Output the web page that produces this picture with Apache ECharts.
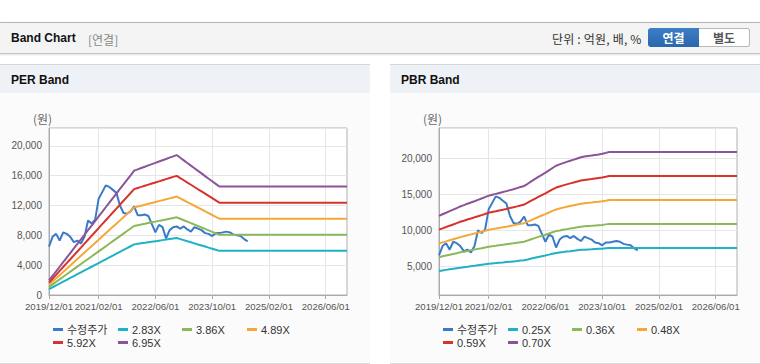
<!DOCTYPE html>
<html><head><meta charset="utf-8">
<script src="https://cdn.jsdelivr.net/npm/echarts@6/dist/echarts.min.js"></script>
<style>
html,body{margin:0;padding:0;background:#fff;width:760px;height:364px;overflow:hidden;font-family:'Liberation Sans','Noto Sans CJK KR',sans-serif;}
#top{position:absolute;left:0;top:22px;width:760px;height:30px;background:#f4f4f4;border-top:1px solid #b4b4b4;border-bottom:1px solid #c4c4c4;box-shadow:0 1px 2px rgba(0,0,0,0.12);}
#t1{position:absolute;left:11px;top:8px;font-weight:bold;font-size:12px;color:#111;}
#t2{position:absolute;left:88px;top:8px;font-size:12px;color:#888;font-family:'Noto Sans CJK KR',sans-serif;}
#unit{position:absolute;left:552px;top:7px;font-size:12px;color:#333;font-family:'Noto Sans CJK KR',sans-serif;letter-spacing:0.2px;}
#b1{position:absolute;left:648px;top:5px;width:51px;height:19px;line-height:19px;text-align:center;background:linear-gradient(#3d7fc6,#2a66ab);color:#fff;font-weight:bold;font-size:12px;border-radius:3px 0 0 3px;font-family:'Noto Sans CJK KR',sans-serif;}
#b2{position:absolute;left:699px;top:5px;width:50px;height:17px;line-height:17px;text-align:center;background:#fff;color:#555;font-weight:bold;font-size:12px;border:1px solid #b8b8b8;border-left:none;border-radius:0 3px 3px 0;font-family:'Noto Sans CJK KR',sans-serif;}
.panel{position:absolute;top:64px;width:370px;height:298px;background:#fbfbfb;border-top:1px solid #d6d6d6;border-bottom:1px solid #dcdcdc;}
.ph{position:absolute;left:0;top:0;width:370px;height:28px;background:#eef2f7;}
.pt{position:absolute;left:11px;top:8px;font-weight:bold;font-size:12px;color:#111;}
.chart{position:absolute;left:0;top:28px;width:370px;height:269px;}
</style></head>
<body>
<div id="top"><div id="t1">Band Chart</div><div id="t2">[연결]</div><div id="unit">단위 : 억원, 배, %</div><div id="b1">연결</div><div id="b2">별도</div></div>
<div class="panel" style="left:0"><div class="ph"><div class="pt">PER Band</div></div><div class="chart" id="per"></div></div>
<div class="panel" style="left:390px"><div class="ph"><div class="pt">PBR Band</div></div><div class="chart" id="pbr"></div></div>
<script>
const categories = ['2019/12/01','2020/01/01','2020/02/01','2020/03/01','2020/04/01','2020/05/01','2020/06/01','2020/07/01','2020/08/01','2020/09/01','2020/10/01','2020/11/01','2020/12/01',
'2021/01/01','2021/02/01','2021/03/01','2021/04/01','2021/05/01','2021/06/01','2021/07/01','2021/08/01','2021/09/01','2021/10/01','2021/11/01','2021/12/01',
'2022/01/01','2022/02/01','2022/03/01','2022/04/01','2022/05/01','2022/06/01','2022/07/01','2022/08/01','2022/09/01','2022/10/01','2022/11/01','2022/12/01',
'2023/01/01','2023/02/01','2023/03/01','2023/04/01','2023/05/01','2023/06/01','2023/07/01','2023/08/01','2023/09/01','2023/10/01','2023/11/01','2023/12/01',
'2024/01/01','2024/02/01','2024/03/01','2024/04/01','2024/05/01','2024/06/01','2024/07/01','2024/08/01','2024/09/01','2024/10/01','2024/11/01','2024/12/01',
'2025/01/01','2025/02/01','2025/03/01','2025/04/01','2025/05/01','2025/06/01','2025/07/01','2025/08/01','2025/09/01','2025/10/01','2025/11/01','2025/12/01',
'2026/01/01','2026/02/01','2026/03/01','2026/04/01','2026/05/01','2026/06/01','2026/07/01','2026/08/01','2026/09/01','2026/10/01','2026/11/01','2026/12/01'];
const tickLabels = ['2019/12/01','2021/02/01','2022/06/01','2023/10/01','2025/02/01','2026/06/01'];

const price = [6500,7800,8200,7300,8400,8200,7800,7100,7300,6900,7800,10000,9600,10100,12900,13800,14700,14500,14100,13700,12000,11000,10900,11200,11900,10700,10700,10800,10600,9500,8400,9400,9100,7600,8700,9100,9200,8900,9200,8800,8500,9100,8900,8700,8300,8200,7900,8300,8300,8400,8500,8400,8100,8000,7900,7500,7200];

const perNames = ['2.83X','3.86X','4.89X','5.92X','6.95X'];
const per283 = [790,1040,1290,1540,1790,2040,2290,2540,2790,3040,3290,3540,3790,4040,4290,4540,4790,5040,5290,5540,5790,6040,6290,6540,6790,
6860,6930,7000,7080,7150,7220,7290,7360,7430,7500,7570,7640,
7500,7360,7210,7070,6930,6780,6640,6500,6350,6210,6070,5920,
5920,5920,5920,5920,5920,5920,5920,5920,5920,5920,5920,5920,5920,5920,5920,5920,5920,5920,5920,5920,5920,5920,5920,5920,5920,5920,5920,5920,5920,5920,5920,5920,5920,5920,5920,5920];
const per386 = [1080,1420,1760,2100,2440,2790,3130,3470,3810,4150,4490,4830,5170,5510,5850,6190,6530,6880,7220,7560,7900,8240,8580,8920,9260,
9360,9460,9550,9650,9750,9840,9940,10040,10130,10230,10330,10420,
10230,10030,9840,9640,9450,9250,9060,8860,8670,8470,8280,8080,
8080,8080,8080,8080,8080,8080,8080,8080,8080,8080,8080,8080,8080,8080,8080,8080,8080,8080,8080,8080,8080,8080,8080,8080,8080,8080,8080,8080,8080,8080,8080,8080,8080,8080,8080,8080];
const per489 = [1370,1800,2230,2660,3100,3530,3960,4390,4820,5260,5690,6120,6550,6980,7410,7850,8280,8710,9140,9570,10010,10440,10870,11300,11730,
11860,11980,12100,12230,12350,12470,12590,12710,12840,12960,13080,13200,
12950,12710,12460,12220,11970,11720,11470,11220,10980,10730,10480,10240,
10240,10240,10240,10240,10240,10240,10240,10240,10240,10240,10240,10240,10240,10240,10240,10240,10240,10240,10240,10240,10240,10240,10240,10240,10240,10240,10240,10240,10240,10240,10240,10240,10240,10240,10240,10240];
const per592 = [1660,2180,2700,3230,3750,4270,4790,5320,5840,6360,6890,7410,7930,8450,8980,9500,10020,10540,11070,11590,12110,12640,13160,13680,14200,
14360,14500,14650,14800,14950,15100,15240,15390,15540,15690,15840,15980,
15680,15390,15080,14790,14490,14180,13890,13590,13290,12990,12690,12390,
12390,12390,12390,12390,12390,12390,12390,12390,12390,12390,12390,12390,12390,12390,12390,12390,12390,12390,12390,12390,12390,12390,12390,12390,12390,12390,12390,12390,12390,12390,12390,12390,12390,12390,12390,12390];
const per695 = [1950,2560,3170,3790,4400,5020,5630,6240,6860,7470,8080,8700,9310,9920,10540,11150,11770,12380,12990,13610,14220,14830,15450,16060,16680,
16850,17030,17200,17380,17550,17720,17900,18070,18240,18420,18590,18770,
18410,18060,17710,17360,17010,16650,16310,15950,15600,15250,14900,14550,
14550,14550,14550,14550,14550,14550,14550,14550,14550,14550,14550,14550,14550,14550,14550,14550,14550,14550,14550,14550,14550,14550,14550,14550,14550,14550,14550,14550,14550,14550,14550,14550,14550,14550,14550,14550];

const pbrNames = ['0.25X','0.36X','0.48X','0.59X','0.70X'];
const pbr025 = [4330,4410,4490,4570,4640,4720,4800,4870,4930,5000,5060,5130,5200,5270,5340,5390,5430,5480,5520,5570,5620,5670,5720,5780,5830,
5940,6060,6170,6280,6390,6500,6610,6730,6840,6910,6970,7040,
7090,7150,7210,7270,7300,7330,7350,7380,7410,7440,7490,7540,
7540,7540,7540,7540,7540,7540,7540,7540,7540,7540,7540,7540,7540,7540,7540,7540,7540,7540,7540,7540,7540,7540,7540,7540,7540,7540,7540,7540,7540,7540,7540,7540,7540,7540,7540,7540];
const pbr036 = [6250,6370,6480,6590,6700,6810,6930,7020,7120,7220,7310,7410,7500,7610,7710,7780,7840,7910,7970,8040,8110,8180,8260,8340,8410,
8570,8740,8900,9070,9220,9380,9540,9710,9880,9970,10070,10150,
10240,10320,10400,10490,10540,10580,10610,10650,10700,10740,10810,10880,
10880,10880,10880,10880,10880,10880,10880,10880,10880,10880,10880,10880,10880,10880,10880,10880,10880,10880,10880,10880,10880,10880,10880,10880,10880,10880,10880,10880,10880,10880,10880,10880,10880,10880,10880,10880];
const pbr048 = [8160,8310,8450,8600,8740,8890,9040,9170,9300,9420,9540,9670,9790,9930,10060,10150,10230,10320,10400,10490,10590,10680,10780,10880,10980,
11190,11410,11620,11830,12040,12240,12460,12680,12890,13020,13140,13250,
13360,13470,13580,13690,13760,13800,13850,13910,13960,14020,14100,14210,
14210,14210,14210,14210,14210,14210,14210,14210,14210,14210,14210,14210,14210,14210,14210,14210,14210,14210,14210,14210,14210,14210,14210,14210,14210,14210,14210,14210,14210,14210,14210,14210,14210,14210,14210,14210];
const pbr059 = [10080,10260,10440,10630,10800,10990,11170,11320,11480,11630,11790,11940,12100,12260,12430,12540,12640,12750,12850,12960,13080,13190,13310,13440,13570,
13820,14100,14360,14620,14870,15120,15390,15660,15930,16080,16230,16370,
16510,16640,16770,16910,16990,17050,17110,17180,17250,17320,17420,17540,
17540,17540,17540,17540,17540,17540,17540,17540,17540,17540,17540,17540,17540,17540,17540,17540,17540,17540,17540,17540,17540,17540,17540,17540,17540,17540,17540,17540,17540,17540,17540,17540,17540,17540,17540,17540];
const pbr070 = [12000,12220,12430,12650,12860,13080,13300,13480,13670,13850,14030,14220,14400,14600,14800,14930,15050,15180,15300,15430,15570,15700,15850,16000,16150,
16450,16780,17090,17400,17700,18000,18320,18640,18960,19140,19320,19490,
19650,19810,19970,20130,20230,20300,20370,20450,20530,20620,20740,20875,
20875,20875,20875,20875,20875,20875,20875,20875,20875,20875,20875,20875,20875,20875,20875,20875,20875,20875,20875,20875,20875,20875,20875,20875,20875,20875,20875,20875,20875,20875,20875,20875,20875,20875,20875,20875];

const priceName = '수정주가';
const colors = ['#3a7bc8','#1fb1c4','#8cb85a','#f5a73a','#d7322b','#8b5398'];
const axisFont = "'Liberation Sans',sans-serif";
const legendPos = [[53,231],[118,231],[182,231],[247,231],[53,244],[118,244]];

function isTick(idx, val){ return tickLabels.indexOf(val) >= 0 || tickLabels.indexOf(categories[idx]) >= 0; }

function build(bandNames, bands, yAxis){
  const names = [priceName].concat(bandNames);
  const series = [{name: priceName, type:'line', data: price}].concat(
    bands.map((d,k)=>({name: bandNames[k], type:'line', data: d}))
  ).map((s,k)=>Object.assign(s,{symbol:'none', showSymbol:false, lineStyle:{width:2,color:colors[k]}, itemStyle:{color:colors[k]}, z: 2, animation:false}));
  return {
    animation:false,
    color: colors,
    grid:{left:49, top:35, width:298, height:167, show:true, borderColor:'#b0b0b0', borderWidth:1, backgroundColor:'#ffffff'},
    legend: names.map((n,k)=>({data:[n], left:legendPos[k][0], top:legendPos[k][1], padding:0, itemWidth:10, itemHeight:3, icon:'rect', itemGap:0,
      textStyle:{fontSize:11, color:'#333', fontFamily:"'Liberation Sans','Noto Sans CJK KR',sans-serif", padding:[0,0,0,-1]}, selectedMode:false})),
    graphic:[{type:'text', left:33, top:19, style:{text:'(원)', font:"12px 'Noto Sans CJK KR',sans-serif", fill:'#666'}}],
    xAxis:{type:'category', data: categories, boundaryGap:false,
      axisLine:{lineStyle:{color:'#aaa'}},
      axisTick:{show:true, interval:isTick, length:4, lineStyle:{color:'#aaa'}},
      axisLabel:{interval:isTick, margin:6, fontSize:9.6, color:'#555', fontFamily:axisFont, hideOverlap:false},
      splitLine:{show:true, interval:isTick, lineStyle:{color:'#e6e6e6'}}},
    yAxis: Object.assign({type:'value',
      axisLine:{show:true, lineStyle:{color:'#aaa'}},
      axisTick:{show:false},
      axisLabel:{margin:7, fontSize:10, color:'#555', fontFamily:axisFont, showMaxLabel:false},
      splitLine:{show:true, lineStyle:{color:'#e6e6e6'}}}, yAxis),
    series
  };
}

const perChart = echarts.init(document.getElementById('per'), null, {renderer:'svg'});
perChart.setOption(build(perNames, [per283,per386,per489,per592,per695], {min:0, max:22400, interval:4000}));

const pbrChart = echarts.init(document.getElementById('pbr'), null, {renderer:'svg'});
const pbrY = {min:1000, max:24200, splitNumber:5, minInterval:5000, maxInterval:5000};
pbrY.axisLabel = {margin:7, fontSize:10, color:'#555', fontFamily:axisFont, showMaxLabel:false, showMinLabel:false};
pbrChart.setOption(build(pbrNames, [pbr025,pbr036,pbr048,pbr059,pbr070], pbrY));
</script>
</body></html>
